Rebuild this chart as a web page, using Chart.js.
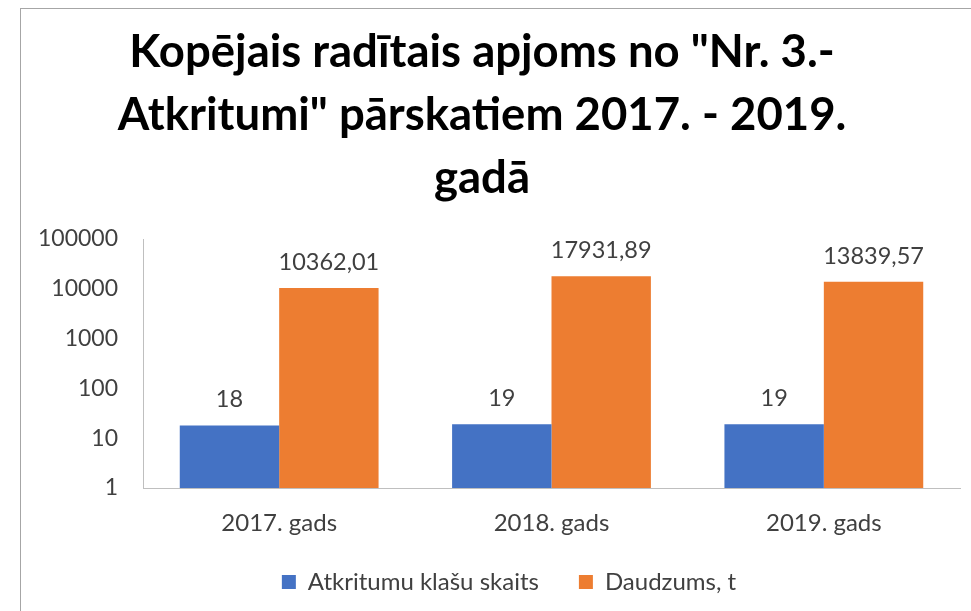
<!DOCTYPE html>
<html>
<head>
<meta charset="utf-8">
<script src="https://cdn.jsdelivr.net/npm/chart.js@4"></script>
<style>
  html, body { margin: 0; padding: 0; background: #fff; }
  #wrap { position: relative; width: 971px; height: 611px; overflow: hidden; }
  #frame { position: absolute; left: 20px; top: 8px; width: 2000px; height: 2000px;
           border-left: 1px solid #a6a6a6; border-top: 1px solid #a6a6a6; pointer-events: none; }
</style>
</head>
<body>
<div id="wrap">
  <canvas id="chart" width="971" height="611"></canvas>
  <div id="frame"></div>
</div>
<script>
// Chart data
const years = ["2017. gads", "2018. gads", "2019. gads"];
const classCount = [18, 19, 19];
const amountTons = [10362.01, 17931.89, 13839.57];
const yTicks = [1, 10, 100, 1000, 10000, 100000];
const seriesNames = ["Atkritumu klašu skaits", "Daudzums, t"];

const textColor = "#404040";
const fontFamily = "Lato, 'Open Sans', sans-serif";

// Writes the value above each bar, with a comma as decimal mark
const valueLabels = {
  id: "valueLabels",
  afterDatasetsDraw(chart) {
    const ctx = chart.ctx;
    ctx.save();
    ctx.font = "23.5px " + fontFamily;
    ctx.fillStyle = textColor;
    ctx.textAlign = "center";
    ctx.textBaseline = "bottom";
    chart.data.datasets.forEach((ds, i) => {
      chart.getDatasetMeta(i).data.forEach((bar, j) => {
        const txt = String(ds.data[j]).replace(".", ",");
        ctx.fillText(txt, bar.x, bar.y - 14);
      });
    });
    ctx.restore();
  }
};

// Fixed legend height, plus small nudges of the title and legend after layout
const nudgeBoxes = {
  id: "nudgeBoxes",
  afterInit(chart) {
    const lg = chart.legend;
    const fit = lg.fit;
    lg.fit = function () {
      fit.call(this);
      this.height = 73;
    };
  },
  afterLayout(chart) {
    const lg = chart.legend;
    lg.top -= 8; lg.bottom -= 8;
    lg.left += 19; lg.right += 19;
    const tb = chart.titleBlock;
    tb.left -= 8; tb.right -= 8;
  }
};

new Chart(document.getElementById("chart"), {
  type: "bar",
  data: {
    labels: years,
    datasets: [
      {
        label: seriesNames[0],
        data: classCount,
        backgroundColor: "#4472C4",
        categoryPercentage: 0.73,
        barPercentage: 1.0,
      },
      {
        label: seriesNames[1],
        data: amountTons,
        backgroundColor: "#ED7D31",
        categoryPercentage: 0.73,
        barPercentage: 1.0,
      },
    ],
  },
  options: {
    responsive: false,
    animation: false,
    layout: { padding: { left: 20, right: 11, top: 0, bottom: 0 } },
    plugins: {
      title: {
        display: true,
        text: ['Kopējais radītais apjoms no "Nr. 3.-', 'Atkritumi" pārskatiem 2017. - 2019.', "gadā"],
        color: "#000",
        font: { family: fontFamily, size: 45.5, weight: "bold", lineHeight: 1.385 },
        padding: { top: 21, bottom: 29 },
      },
      legend: {
        position: "bottom",
        labels: {
          color: textColor,
          font: { family: fontFamily, size: 24 },
          boxWidth: 14,
          boxHeight: 14,
          padding: 40,
        },
      },
      tooltip: { enabled: false },
    },
    scales: {
      x: {
        grid: { display: false, drawTicks: false },
        border: { display: true, color: "#bfbfbf", width: 1 },
        ticks: { color: textColor, font: { family: fontFamily, size: 24 }, padding: 21 },
        afterFit(scale) {
          scale.height = 50;
        },
      },
      y: {
        type: "logarithmic",
        min: 1,
        max: 100000,
        grid: { display: false, drawTicks: false },
        border: { display: true, color: "#bfbfbf", width: 1 },
        afterBuildTicks(scale) {
          scale.ticks = yTicks.map(v => ({ value: v }));
        },
        afterFit(scale) {
          scale.width = 123;
        },
        ticks: {
          color: textColor,
          font: { family: fontFamily, size: 23 },
          padding: 25,
          callback: v => String(v),
        },
      },
    },
  },
  plugins: [valueLabels, nudgeBoxes],
});
</script>
</body>
</html>
